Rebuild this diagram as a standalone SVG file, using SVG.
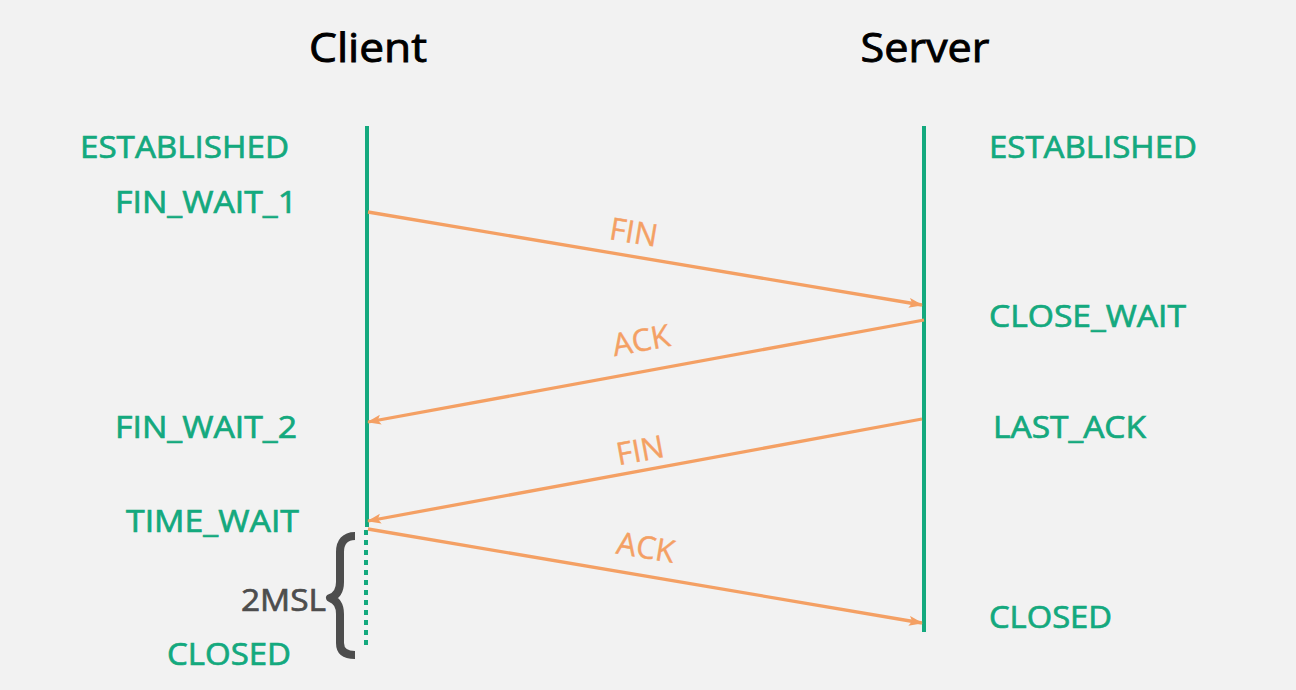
<svg xmlns="http://www.w3.org/2000/svg" width="1296" height="690" viewBox="0 0 1296 690">
<defs>
<style>
.st{font-family:"Open Sans","Noto Sans","Liberation Sans",sans-serif;font-size:31px;fill:#14a97e;stroke:#14a97e;stroke-width:0.7px}
.hd{font-family:"Open Sans","Noto Sans","Liberation Sans",sans-serif;font-size:40px;fill:#000;stroke:#000;stroke-width:0.9px}
.lb{font-family:"Open Sans","Noto Sans","Liberation Sans",sans-serif;font-size:31px;fill:#f4a064;stroke:#f4a064;stroke-width:0.4px}
.life{stroke:#14a97e;stroke-width:4;fill:none}
.msg{stroke:#f4a064;stroke-width:3.3;fill:none;marker-end:url(#ah)}
</style>
<marker id="ah" markerUnits="userSpaceOnUse" markerWidth="14" markerHeight="10" refX="13" refY="5" orient="auto">
<path d="M0,0 L14,5 L0,10 L3,5 Z" fill="#f4a064"/>
</marker>
</defs>
<rect width="1296" height="690" fill="#f2f2f2"/>
<g id="client">
<text class="hd" x="368" y="62" text-anchor="middle" textLength="118" lengthAdjust="spacingAndGlyphs">Client</text>
<line class="life" x1="367" y1="126" x2="367" y2="527"/>
<line class="life" x1="366" y1="530" x2="366" y2="648" stroke-dasharray="5,5"/>
</g>
<g id="server">
<text class="hd" x="925" y="62" text-anchor="middle" textLength="129" lengthAdjust="spacingAndGlyphs">Server</text>
<line class="life" x1="924" y1="126" x2="924" y2="632"/>
</g>
<g id="client-states">
<text class="st" x="80" y="158" textLength="209" lengthAdjust="spacingAndGlyphs">ESTABLISHED</text>
<text class="st" x="115" y="213" textLength="182" lengthAdjust="spacingAndGlyphs">FIN_WAIT_1</text>
<text class="st" x="115" y="438" textLength="182" lengthAdjust="spacingAndGlyphs">FIN_WAIT_2</text>
<text class="st" x="126" y="532" textLength="173" lengthAdjust="spacingAndGlyphs">TIME_WAIT</text>
<text class="st" x="167" y="665" textLength="124" lengthAdjust="spacingAndGlyphs">CLOSED</text>
</g>
<g id="server-states">
<text class="st" x="989" y="158" textLength="208" lengthAdjust="spacingAndGlyphs">ESTABLISHED</text>
<text class="st" x="989" y="327" textLength="197" lengthAdjust="spacingAndGlyphs">CLOSE_WAIT</text>
<text class="st" x="993" y="438" textLength="153" lengthAdjust="spacingAndGlyphs">LAST_ACK</text>
<text class="st" x="989" y="628" textLength="123" lengthAdjust="spacingAndGlyphs">CLOSED</text>
</g>
<g id="msl">
<path d="M355,536 C345,536 340,542 340,552 L340,582 C340,591 336,596 330,598 C336,600 340,605 340,614 L340,643 C340,651 345,655 355,655" fill="none" stroke="#4d4d4d" stroke-width="8" stroke-linecap="butt" stroke-linejoin="round"/>
<text x="326" y="611" text-anchor="end" textLength="85" lengthAdjust="spacingAndGlyphs" style="font-family:'Open Sans','Noto Sans','Liberation Sans',sans-serif;font-size:31px;fill:#4d4d4d;stroke:#4d4d4d;stroke-width:0.7px">2MSL</text>
</g>
<g id="connectors">
<line class="msg" x1="368" y1="212" x2="922" y2="305"/>
<line class="msg" x1="924" y1="320" x2="368" y2="422"/>
<line class="msg" x1="922" y1="419" x2="368" y2="521"/>
<line class="msg" x1="368" y1="529" x2="922" y2="623"/>
<text class="lb" transform="translate(632,243) rotate(9.5)" text-anchor="middle">FIN</text>
<text class="lb" transform="translate(643,351) rotate(-10.4)" text-anchor="middle">ACK</text>
<text class="lb" transform="translate(642,461) rotate(-10.4)" text-anchor="middle">FIN</text>
<text class="lb" transform="translate(644,558) rotate(9.6)" text-anchor="middle">ACK</text>
</g>
</svg>
